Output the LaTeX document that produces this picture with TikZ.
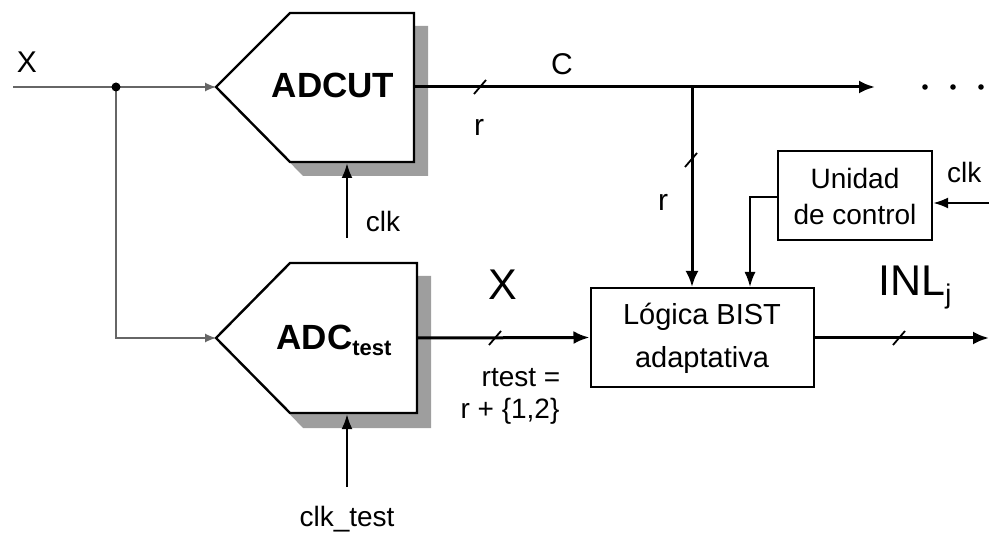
\documentclass[tikz,border=0pt]{standalone}
\usepackage{fontspec}
\setmainfont{Liberation Sans}
\usetikzlibrary{arrows.meta,calc}
\begin{document}
\begin{tikzpicture}[x=1pt,y=-1pt,
  bus/.style={line width=3pt,-{Latex[length=16pt,width=13pt]}},
  thinin/.style={line width=1.2pt,draw=black!60,-{Latex[length=11pt,width=9pt]}},
  ctl/.style={line width=2pt,-{Latex[length=15pt,width=11pt]}},
  clkarrow/.style={line width=2.6pt,-{Latex[length=15pt,width=11pt]}},
  adc/.style={draw,line width=2.4pt,fill=white},
  shadow/.style={fill=black!38},
  blk/.style={draw,line width=2pt,fill=white,align=center,inner sep=0pt},
  slash/.style={line width=1.8pt},
  lbl/.style={font=\fontsize{28}{30}\selectfont,inner sep=0pt},
  big/.style={font=\fontsize{43}{46}\selectfont,inner sep=0pt},
  adctext/.style={font=\fontsize{35}{38}\selectfont\bfseries,inner sep=0pt},
  boxtext/.style={align=center}
]
\useasboundingbox (0,0) rectangle (989,540);

% ADCUT
\coordinate (cuttip) at (216,87);
\coordinate (cutout) at (414,87);
\fill[shadow] ($(cuttip)+(13,13)$) -- (303,26) -- (428,26) -- (428,176) -- (303,176) -- cycle;
\draw[adc] (cuttip) -- (290,13) -- (414,13) -- (414,162) -- (290,162) -- cycle;
\node[adctext] (adcut) at (333,85) {ADCUT};

% ADCtest
\coordinate (testtip) at (216,338);
\coordinate (testout) at (417,338);
\fill[shadow] ($(testtip)+(13,13)$) -- (303,276) -- (431,276) -- (431,428) -- (303,428) -- cycle;
\draw[adc] (testtip) -- (290,263) -- (417,263) -- (417,413) -- (290,413) -- cycle;
\node[adctext] (adctest) at (334,340) {ADC\raisebox{-6pt}{\fontsize{22}{24}\selectfont test}};

% blocks
\node[blk,minimum width=223pt,minimum height=99pt] (logic) at (702,337.5) {};
\node[boxtext,font=\fontsize{29}{43}\selectfont] (logictxt) at (702,338) {Lógica BIST\\adaptativa};
\node[blk,minimum width=154pt,minimum height=89pt] (ctrl) at (855,196) {};
\node[boxtext,font=\fontsize{28}{36}\selectfont] (ctrltxt) at (855,196) {Unidad\\de control};

% input
\coordinate (xin) at (13,87);
\coordinate (junc) at (116,87);
\draw[thinin] (xin) -- (cuttip);
\draw[thinin] (junc) |- (testtip);
\fill (junc) circle (4.5pt);
\node[lbl,font=\fontsize{30}{32}\selectfont] (xlbl) at (27,62) {X};

% clocks
\coordinate (clka) at (347,238);
\coordinate (clkb) at (347,487);
\draw[clkarrow] (clka) -- (347,163);
\draw[clkarrow] (clkb) -- (347,414);
\node[lbl] (clklbl) at (383,221) {clk};
\node[lbl] (clktestlbl) at (347,519) {clk\_test};

% top bus C
\coordinate (busend) at (875,87);
\coordinate (branch) at (692,87);
\draw[bus] (cutout) -- (busend);
\draw[bus] (branch) -- (branch |- logic.north);
\fill (925,87) circle (2.8pt) (953,87) circle (2.8pt) (981,87) circle (2.8pt);
\draw[slash] (474,94) -- (486,80);
\draw[slash] (685,167) -- (697,153);
\node[lbl,font=\fontsize{30}{32}\selectfont] (clbl) at (562,64) {C};
\node[lbl,font=\fontsize{30}{32}\selectfont] (rlbl1) at (479,127) {r};
\node[lbl,font=\fontsize{30}{32}\selectfont] (rlbl2) at (663,202) {r};

% X bus
\draw[bus] (testout) -- (logic.west);
\draw[slash] (489,345) -- (501,331);
\node[big] (bigx) at (503,285) {X};
\node[lbl] (rtest) at (521,378) {rtest =};
\node[lbl] (rtest2) at (510,411) {r + \{1,2\}};

% control
\coordinate (ctlx) at (750,197);
\draw[ctl] (ctrl.west |- ctlx) -| (ctlx |- logic.north);
\coordinate (clkr) at (989,203);
\draw[clkarrow] (clkr) -- (ctrl.east |- clkr);
\node[lbl,anchor=west] (clkrlbl) at (947,172) {clk};

% output
\coordinate (outend) at (989,338);
\draw[bus] (logic.east |- outend) -- (outend);
\draw[slash] (893,345) -- (905,331);
\node[big] (inl) at (915,288) {INL\raisebox{-8pt}{\fontsize{27}{28}\selectfont j}};
\end{tikzpicture}
\end{document}
